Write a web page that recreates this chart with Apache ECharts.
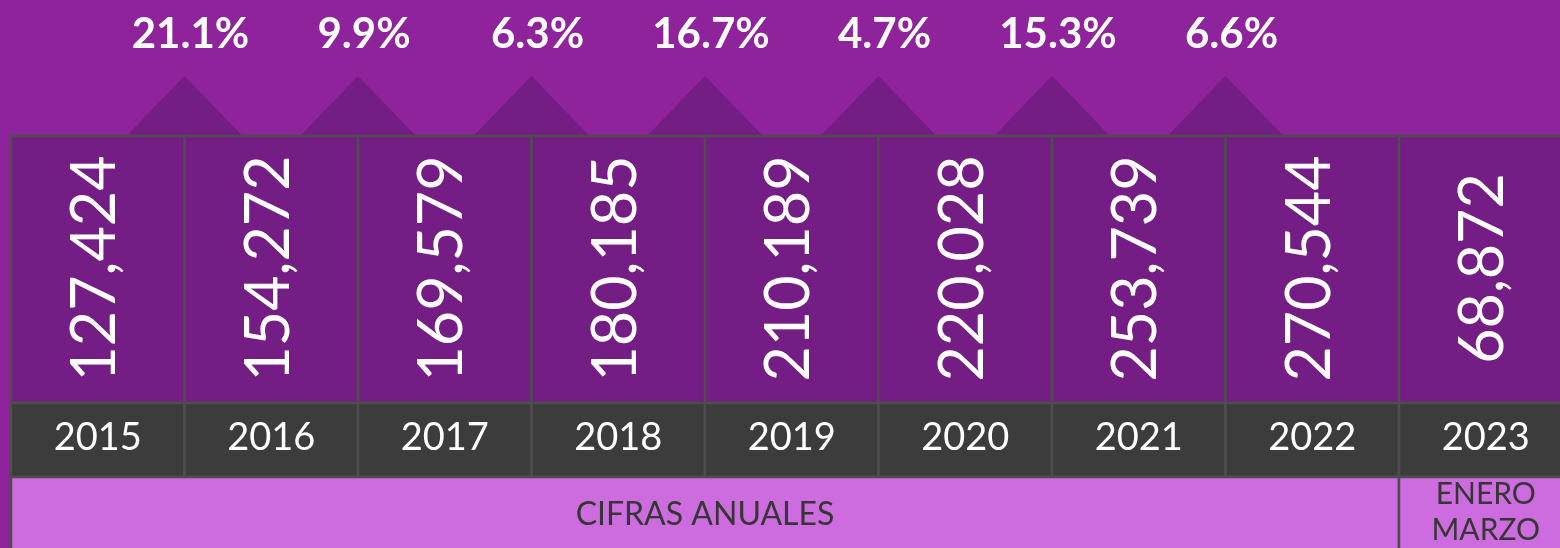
<!DOCTYPE html>
<html><head><meta charset="utf-8">
<script src="https://cdn.jsdelivr.net/npm/echarts@6/dist/echarts.min.js"></script>
<style>html,body{margin:0;padding:0;background:#8E239C;}#c{width:1560px;height:548px;}</style>
</head><body><div id="c"></div>
<script>
// ---- data ----
const years = ['2015', '2016', '2017', '2018', '2019', '2020', '2021', '2022', '2023'];
const values = [127424, 154272, 169579, 180185, 210189, 220028, 253739, 270544, 68872];
const growth = [21.1, 9.9, 6.3, 16.7, 4.7, 15.3, 6.6];
const periodLabels = ['CIFRAS ANUALES', 'ENERO\nMARZO'];
const periodFrom = ['2015', '2023'];
const periodTo = ['2022', '2023'];

// ---- styles ----
const BG = '#8E239C', CELL = '#741D85', LINE = '#4D4D4D', YEARBG = '#3C3C3C', PERIODBG = '#CC6CDF';
const FONT = 'Lato, "Open Sans", sans-serif';
const COLW = 173.5, LEFT = 11;
const gridW = COLW * years.length;

const chart = echarts.init(document.getElementById('c'), null, {renderer: 'canvas'});

function xAx(i) { return {type: 'category', gridIndex: i, data: years, boundaryGap: true, show: false}; }
function yAx(i) { return {type: 'value', gridIndex: i, min: 0, max: 1, show: false}; }
function gridAt(top, height) {
  return {left: LEFT, top: top, width: gridW, height: height, outerBoundsMode: 'none', containLabel: false};
}

const option = {
  backgroundColor: BG,
  animation: false,
  grid: [gridAt(136, 267), gridAt(403, 74), gridAt(477, 80)],
  xAxis: [xAx(0), xAx(1), xAx(2)],
  yAxis: [yAx(0), yAx(1), yAx(2)],
  series: [
    // growth triangles + labels
    {
      type: 'custom', xAxisIndex: 0, yAxisIndex: 0, z: 1,
      data: growth.map((g, i) => [i, g]),
      renderItem(params, api) {
        const cs = params.coordSys;
        const bw = api.size([1, 0])[0];
        const bx = api.coord([api.value(0), 0])[0] + bw / 2;
        const top = cs.y;
        return {type: 'group', children: [
          {type: 'polygon', shape: {points: [[bx - 58, top], [bx, top - 60], [bx + 58, top]]},
           style: {fill: CELL}},
          {type: 'text', x: bx + 6, y: top - 102,
           style: {text: api.value(1).toFixed(1) + '%', fill: '#fff', fontSize: 42, fontWeight: 'bold',
                   fontFamily: FONT, align: 'center', verticalAlign: 'middle'}}
        ]};
      }
    },
    // value cells
    {
      type: 'custom', xAxisIndex: 0, yAxisIndex: 0, z: 2,
      data: values.map((v, i) => [i, v]),
      renderItem(params, api) {
        const cs = params.coordSys;
        const bw = api.size([1, 0])[0];
        const cx = api.coord([api.value(0), 0])[0];
        return {type: 'group', children: [
          {type: 'rect', shape: {x: cx - bw / 2, y: cs.y, width: bw, height: cs.height},
           style: {fill: CELL, stroke: LINE, lineWidth: 2.5}},
          {type: 'text', x: cx - 2, y: cs.y + cs.height / 2 - 1, rotation: Math.PI / 2,
           style: {text: api.value(1).toLocaleString('en-US'), fill: '#fff', fontSize: 61, fontWeight: 400,
                   fontFamily: FONT, align: 'center', verticalAlign: 'middle'}}
        ]};
      }
    },
    // year cells
    {
      type: 'custom', xAxisIndex: 1, yAxisIndex: 1, z: 2,
      data: years.map((y, i) => [i, y]),
      renderItem(params, api) {
        const cs = params.coordSys;
        const bw = api.size([1, 0])[0];
        const idx = api.value(0);
        const cx = api.coord([idx, 0])[0];
        return {type: 'group', children: [
          {type: 'rect', shape: {x: cx - bw / 2, y: cs.y, width: bw, height: cs.height},
           style: {fill: YEARBG, stroke: LINE, lineWidth: 2.5}},
          {type: 'text', x: cx, y: cs.y + cs.height / 2 - 2,
           style: {text: years[idx], fill: '#fff', fontSize: 38, fontWeight: 400,
                   fontFamily: FONT, align: 'center', verticalAlign: 'middle'}}
        ]};
      }
    },
    // period cells
    {
      type: 'custom', xAxisIndex: 2, yAxisIndex: 2, z: 2,
      data: periodLabels.map((p, i) => [years.indexOf(periodFrom[i]), years.indexOf(periodTo[i]), i]),
      renderItem(params, api) {
        const cs = params.coordSys;
        const bw = api.size([1, 0])[0];
        const x0 = api.coord([api.value(0), 0])[0] - bw / 2;
        const x1 = api.coord([api.value(1), 0])[0] + bw / 2;
        const label = periodLabels[api.value(2)];
        const twoLine = label.indexOf('\n') >= 0;
        return {type: 'group', children: [
          {type: 'rect', shape: {x: x0, y: cs.y, width: x1 - x0, height: cs.height},
           style: {fill: PERIODBG, stroke: LINE, lineWidth: 2.5}},
          {type: 'text', x: (x0 + x1) / 2, y: twoLine ? cs.y + 35 : cs.y + 38,
           style: {text: label, fill: '#363636', fontSize: twoLine ? 30 : 32, fontWeight: 400,
                   lineHeight: 36, fontFamily: FONT, align: 'center', verticalAlign: 'middle'}}
        ]};
      }
    }
  ]
};
chart.setOption(option);
</script>
</body></html>
